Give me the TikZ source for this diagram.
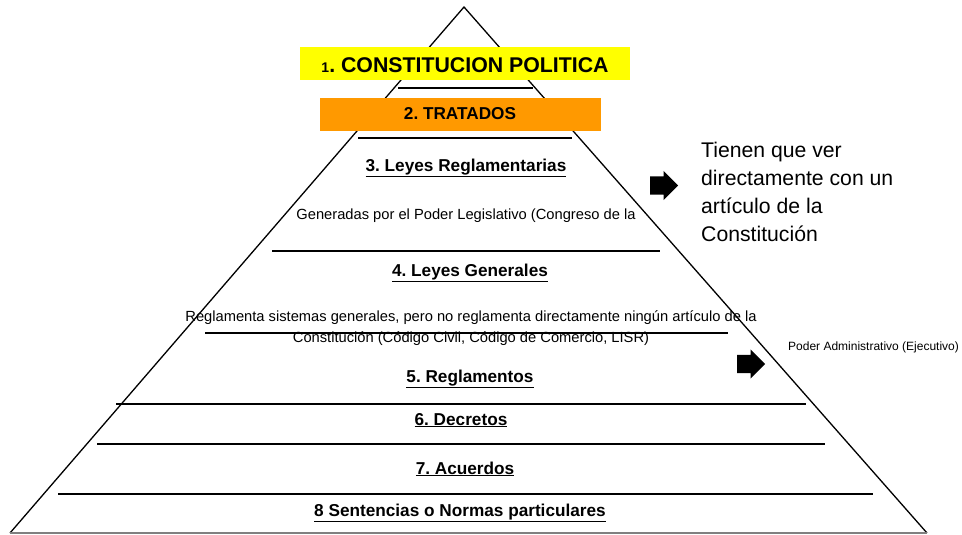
\documentclass[tikz,border=0pt]{standalone}
\usepackage{fontspec}
\setmainfont{Liberation Sans}
\usetikzlibrary{shapes.arrows}
\definecolor{amarillo}{RGB}{255,255,0}
\definecolor{naranja}{RGB}{255,153,0}
\frenchspacing

\tikzset{
		nivel/.style   = {anchor=base, font=\bfseries\fontsize{17.2}{20}\selectfont},
		nota/.style    = {anchor=base, align=center, font=\fontsize{14.7}{21}\selectfont},
		caja/.style    = {inner sep=0pt, minimum height=33pt},
		franja/.style  = {line width=2pt},
		lado/.style    = {line width=1.3pt},
		flecha/.style  = {single arrow, fill=black, inner xsep=0pt, inner ysep=9pt,
				minimum width=29pt, minimum height=28pt,
				single arrow head extend=5.5pt, anchor=tail}
	}

\begin{document}
\begin{tikzpicture}[x=1pt, y=-1pt]
	\useasboundingbox (0,0) rectangle (962,535);
	% flechas (bajo el borde de la piramide)
	\node[flecha] (flechauno) at (650,185.5) {};
	\node[flecha] (flechados) at (737,364) {};
	% piramide
	\draw[lado] (10,533) -- (464,7) -- (927,533);
	\draw[lado, gray] (10,533) -- (927,533);
	% divisiones
	\draw[franja] (398,88) -- (533,88);
	\draw[franja] (358,138) -- (572,138);
	\draw[franja] (272,251) -- (660,251);
	\draw[franja] (205,333) -- (728,333);
	\draw[franja] (116,404) -- (806,404);
	\draw[franja] (97,444) -- (825,444);
	\draw[franja] (58,494) -- (873,494);
	% cajas de color
	\node[caja, fill=amarillo, minimum width=330pt] (constitucion) at (465,63.5) {};
	\node[anchor=base, font=\bfseries\fontsize{21.3}{24}\selectfont] (tconstitucion) at (465,73)
		{{\fontsize{14}{14}\selectfont 1}. CONSTITUCION POLITICA};
	\node[caja, fill=naranja, minimum width=281pt] (tratados) at (460.5,114.5) {};
	\node[nivel] (ttratados) at (460,119.5) {2. TRATADOS};
	% niveles
	\node[nivel] (reglamentarias) at (466,171) {\underline{3. Leyes Reglamentarias}};
	\node[nota] (generadas) at (466,219) {Generadas por el Poder Legislativo (Congreso de la};
	\node[nivel] (generales) at (470,276) {\underline{4. Leyes Generales}};
	\node[nota] (sistemas) at (471,342) {Reglamenta sistemas generales, pero no reglamenta directamente ningún artículo de la\\
		Constitución (Código Civil, Código de Comercio, LISR)};
	\node[nivel] (reglamentos) at (470,382) {\underline{5. Reglamentos}};
	\node[nivel] (decretos) at (461,425) {\underline{6. Decretos}};
	\node[nivel] (acuerdos) at (465,474) {\underline{7. Acuerdos}};
	\node[nivel] (sentencias) at (460,516) {\underline{8 Sentencias o Normas particulares}};
	% notas laterales
	\node[anchor=base west, align=left, inner sep=0pt, font=\fontsize{21.2}{28}\selectfont] (articulo) at (701,241)
		{Tienen que ver\\directamente con un\\artículo de la\\Constitución};
	\node[anchor=base west, inner sep=0pt, font=\fontsize{12}{14}\selectfont] (ejecutivo) at (788,350)
		{Poder Administrativo (Ejecutivo)};
\end{tikzpicture}
\end{document}
